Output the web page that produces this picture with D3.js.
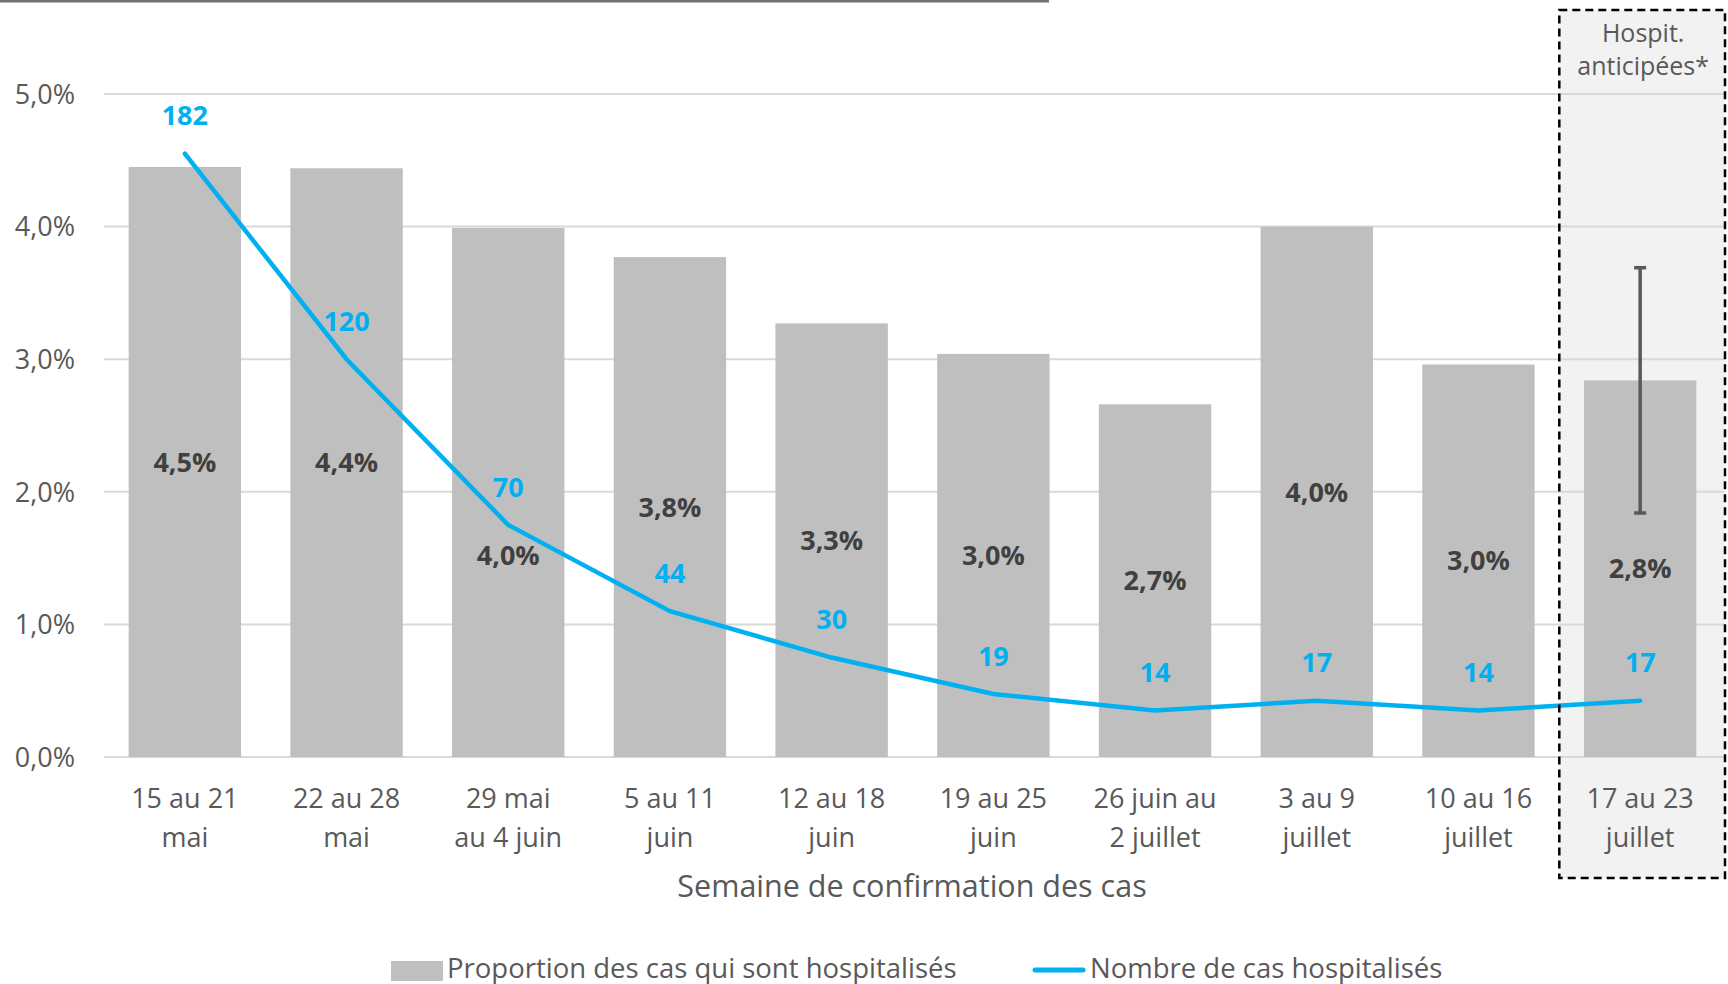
<!DOCTYPE html>
<html>
<head>
<meta charset="utf-8">
<script src="https://cdn.jsdelivr.net/npm/d3@7"></script>
<style>
  body { margin: 0; background: #fff; }
  svg { display: block; font-family: "Open Sans", Lato, sans-serif; }
</style>
</head>
<body>
<svg id="chart"></svg>
<script>
var weeks = [
  ["15 au 21", "mai"], ["22 au 28", "mai"], ["29 mai", "au 4 juin"], ["5 au 11", "juin"],
  ["12 au 18", "juin"], ["19 au 25", "juin"], ["26 juin au", "2 juillet"], ["3 au 9", "juillet"],
  ["10 au 16", "juillet"], ["17 au 23", "juillet"]
];
var proportion = [4.45, 4.44, 3.99, 3.77, 3.27, 3.04, 2.66, 4.00, 2.96, 2.84];
var proportionLabels = ["4,5%", "4,4%", "4,0%", "3,8%", "3,3%", "3,0%", "2,7%", "4,0%", "3,0%", "2,8%"];
var hospitalises = [182, 120, 70, 44, 30, 19, 14, 17, 14, 17];
var errorBar = [1.84, 3.69];
var yTicks = [0, 1, 2, 3, 4, 5];

var width = 1728, height = 984;
var svg = d3.select("#chart").attr("width", width).attr("height", height);

var x = d3.scaleBand().domain(d3.range(weeks.length)).range([104, 1721]).paddingInner(0.305).paddingOuter(0.1525);
var y = d3.scaleLinear().domain([0, 5]).range([757, 94]);
var y2 = d3.scaleLinear().domain([0, 200]).range([757, 94]);
var cx = function(i) { return x(i) + x.bandwidth() / 2; };
var step = x.step();

// top remnant line
svg.append("line").attr("x1", 0).attr("x2", 1049).attr("y1", 1).attr("y2", 1)
  .attr("stroke", "#767171").attr("stroke-width", 3);

// shaded forecast zone
var last = weeks.length - 1;
var zoneX = cx(last) - step / 2;
svg.append("rect")
  .attr("x", zoneX).attr("y", 10).attr("width", 1725 - zoneX).attr("height", 868)
  .attr("fill", "#f2f2f2");

// gridlines
svg.append("g").selectAll("line").data(yTicks).join("line")
  .attr("x1", 104).attr("x2", 1724)
  .attr("y1", function(d) { return y(d); }).attr("y2", function(d) { return y(d); })
  .attr("stroke", "#d9d9d9").attr("stroke-width", 2);

// y axis labels
svg.append("g").selectAll("text").data(yTicks).join("text")
  .attr("x", 75).attr("y", function(d) { return y(d); }).attr("dy", "0.36em")
  .attr("text-anchor", "end").attr("font-size", 27).attr("fill", "#595959")
  .text(function(d) { return d3.format(".1f")(d).replace(".", ",") + "%"; });

// bars
svg.append("g").selectAll("rect").data(proportion).join("rect")
  .attr("x", function(d, i) { return x(i); }).attr("width", x.bandwidth())
  .attr("y", function(d) { return y(d); }).attr("height", function(d) { return y(0) - y(d); })
  .attr("fill", "#bfbfbf");

// error bar
var eb = svg.append("g").attr("stroke", "#595959").attr("stroke-width", 3.5);
eb.append("line").attr("x1", cx(last)).attr("x2", cx(last)).attr("y1", y(errorBar[0])).attr("y2", y(errorBar[1]));
eb.selectAll(".cap").data(errorBar).join("line")
  .attr("x1", cx(last) - 6).attr("x2", cx(last) + 6)
  .attr("y1", function(d) { return y(d); }).attr("y2", function(d) { return y(d); });

// bar labels (3rd one was nudged down in the original)
svg.append("g").selectAll("text").data(proportion).join("text")
  .attr("x", function(d, i) { return cx(i); })
  .attr("y", function(d, i) { return (y(d) + y(0)) / 2 + (i === 2 ? 63 : 0); })
  .attr("dy", "0.36em").attr("text-anchor", "middle")
  .attr("font-size", 27).attr("font-weight", "bold").attr("fill", "#404040")
  .text(function(d, i) { return proportionLabels[i]; });

// line
var line = d3.line().x(function(d, i) { return cx(i); }).y(function(d) { return y2(d); });
svg.append("path").datum(hospitalises).attr("d", line)
  .attr("fill", "none").attr("stroke", "#00b0f0").attr("stroke-width", 4.5).attr("stroke-linecap", "round");

svg.append("g").selectAll("text").data(hospitalises).join("text")
  .attr("x", function(d, i) { return cx(i); })
  .attr("y", function(d) { return y2(d) - 38; })
  .attr("dy", "0.36em").attr("text-anchor", "middle")
  .attr("font-size", 27).attr("font-weight", "bold").attr("fill", "#00b0f0")
  .text(function(d) { return d; });

// x labels
var xl = svg.append("g").selectAll("text").data(weeks).join("text")
  .attr("text-anchor", "middle").attr("font-size", 27).attr("fill", "#595959");
xl.each(function(d, i) {
  var t = d3.select(this);
  d.forEach(function(s, k) {
    t.append("tspan").attr("x", cx(i)).attr("y", 798 + k * 39).attr("dy", "0.36em").text(s);
  });
});

svg.append("text").attr("x", 912).attr("y", 886).attr("dy", "0.36em")
  .attr("text-anchor", "middle").attr("font-size", 30.5).attr("fill", "#595959")
  .text("Semaine de confirmation des cas");

// dashed box
svg.append("rect")
  .attr("x", zoneX).attr("y", 10).attr("width", 1725 - zoneX).attr("height", 868)
  .attr("fill", "none").attr("stroke", "#000").attr("stroke-width", 2.5).attr("stroke-dasharray", "8,5");

svg.append("text").attr("text-anchor", "middle").attr("font-size", 25).attr("fill", "#595959")
  .selectAll("tspan").data(["Hospit.", "anticipées*"]).join("tspan")
  .attr("x", cx(last) + 3).attr("y", function(d, k) { return 33 + k * 33; }).attr("dy", "0.36em")
  .text(function(d) { return d; });

// legend
var lg = svg.append("g").attr("font-size", 27.5).attr("fill", "#595959");
lg.append("rect").attr("x", 391).attr("y", 961).attr("width", 52).attr("height", 20).attr("fill", "#bfbfbf");
lg.append("text").attr("x", 447).attr("y", 968).attr("dy", "0.36em").text("Proportion des cas qui sont hospitalisés");
lg.append("line").attr("x1", 1035).attr("x2", 1083).attr("y1", 970).attr("y2", 970)
  .attr("stroke", "#00b0f0").attr("stroke-width", 5).attr("stroke-linecap", "round");
lg.append("text").attr("x", 1090).attr("y", 968).attr("dy", "0.36em").text("Nombre de cas hospitalisés");
</script>
</body>
</html>
